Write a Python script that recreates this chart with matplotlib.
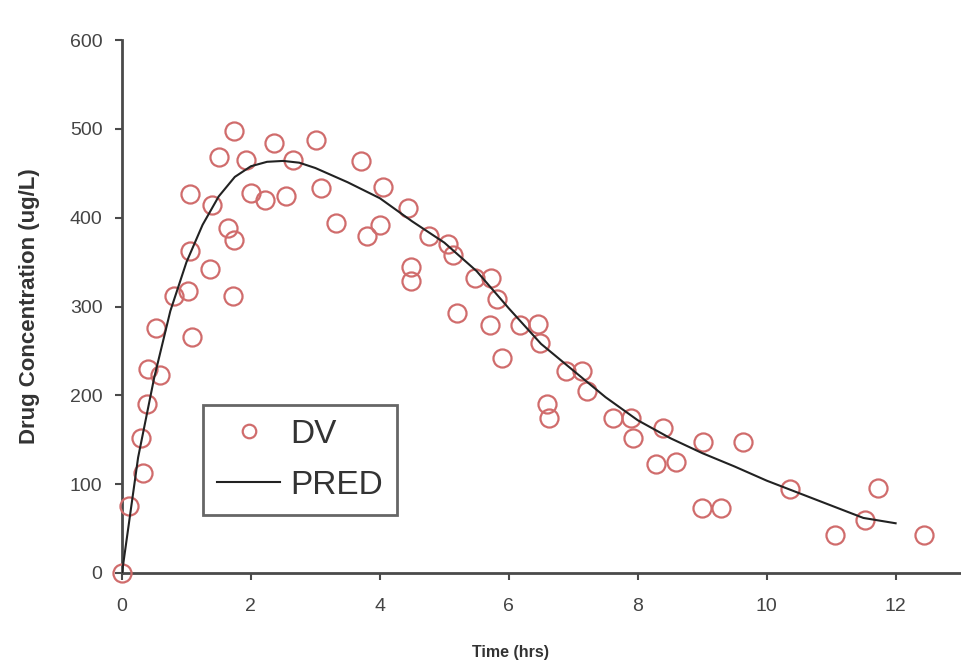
import matplotlib
matplotlib.use("Agg")
import matplotlib.pyplot as plt

# Observed data (DV)
dv_time = [0.0, 0.11, 0.30, 0.33, 0.39, 0.40, 0.53, 0.59, 0.81, 1.02, 1.06, 1.06, 1.09,
           1.37, 1.40, 1.51, 1.65, 1.74, 1.72, 1.74, 1.93, 2.00, 2.22, 2.36, 2.55, 2.66,
           3.01, 3.09, 3.32, 3.71, 3.80, 4.00, 4.05, 4.43, 4.49, 4.49, 4.77, 5.06, 5.14,
           5.19, 5.48, 5.73, 5.71, 5.82, 5.90, 6.18, 6.46, 6.49, 6.60, 6.63, 6.88, 7.14,
           7.22, 7.61, 7.89, 7.93, 8.39, 8.29, 8.59, 9.02, 9.00, 9.29, 9.63, 10.36, 11.06,
           11.52, 11.72, 12.44]
dv_conc = [0, 75, 152, 113, 190, 230, 276, 223, 312, 317, 427, 363, 266,
           342, 414, 468, 388, 375, 312, 498, 465, 428, 420, 484, 425, 465,
           488, 434, 394, 464, 380, 392, 435, 411, 345, 329, 380, 370, 358,
           293, 332, 332, 279, 308, 242, 279, 280, 259, 190, 174, 227, 227,
           205, 174, 174, 152, 163, 123, 125, 147, 73, 73, 147, 95, 43,
           60, 96, 43]

# Population prediction (PRED)
pred_time = [0, 0.25, 0.5, 0.75, 1, 1.25, 1.5, 1.75, 2, 2.25, 2.5, 2.75, 3, 3.5, 4, 4.5,
             5, 5.5, 6, 6.5, 7, 7.5, 8, 8.5, 9, 9.5, 10, 10.5, 11, 11.5, 12]
pred_conc = [0, 130, 220, 295, 350, 392, 424, 446, 458, 463, 464, 462, 456, 440, 422, 396,
             372, 340, 298, 258, 228, 198, 172, 152, 135, 120, 104, 90, 76, 62, 56]

x_ticks = [0, 2, 4, 6, 8, 10, 12]
y_ticks = [0, 100, 200, 300, 400, 500, 600]

plt.rcParams['font.family'] = ['Liberation Sans', 'DejaVu Sans']

fig = plt.figure(figsize=(9.62, 6.69), dpi=100)
ax = fig.add_axes([0.1268, 0.1435, 0.8712, 0.7965])

ax.plot(dv_time, dv_conc, linestyle='none', marker='o', markersize=13,
        markerfacecolor='none', markeredgecolor='#d06c6c', markeredgewidth=1.6,
        label='DV', clip_on=False, zorder=3)
ax.plot(pred_time, pred_conc, color='#222222', linewidth=1.5, label='PRED', zorder=4)

ax.set_xlim(0, 13.0)
ax.set_ylim(0, 600)
ax.set_xticks(x_ticks)
ax.set_yticks(y_ticks)

for s in ['top', 'right']:
    ax.spines[s].set_visible(False)
for s in ['left', 'bottom']:
    ax.spines[s].set_color('#4a4a4a')
    ax.spines[s].set_linewidth(2.0)

ax.tick_params(axis='both', direction='out', length=5, width=1.5, color='#4a4a4a',
               labelsize=14, labelcolor='#444444')
ax.tick_params(axis='x', pad=13)
ax.tick_params(axis='y', pad=9)

ax.set_xlabel('Time (hrs)', fontsize=11.5, fontweight='bold', color='#333333')
ax.set_ylabel('Drug Concentration (ug/L)', fontsize=16, fontweight='bold', color='#333333')
ax.xaxis.set_label_coords(0.463, -0.135)
ax.yaxis.set_label_coords(-0.098, 0.5)

leg = ax.legend(loc='lower left', bbox_to_anchor=(0.0967, 0.109), borderaxespad=0,
                fontsize=24, frameon=True, fancybox=False, handlelength=1.9,
                handletextpad=0.3, borderpad=0.42, labelspacing=0.6, markerscale=0.75)
frame = leg.get_frame()
frame.set_edgecolor('#666666')
frame.set_linewidth(2.0)
frame.set_facecolor('white')
frame.set_alpha(1)
for t in leg.get_texts():
    t.set_color('#333333')

fig.savefig('out.png', dpi=100)
